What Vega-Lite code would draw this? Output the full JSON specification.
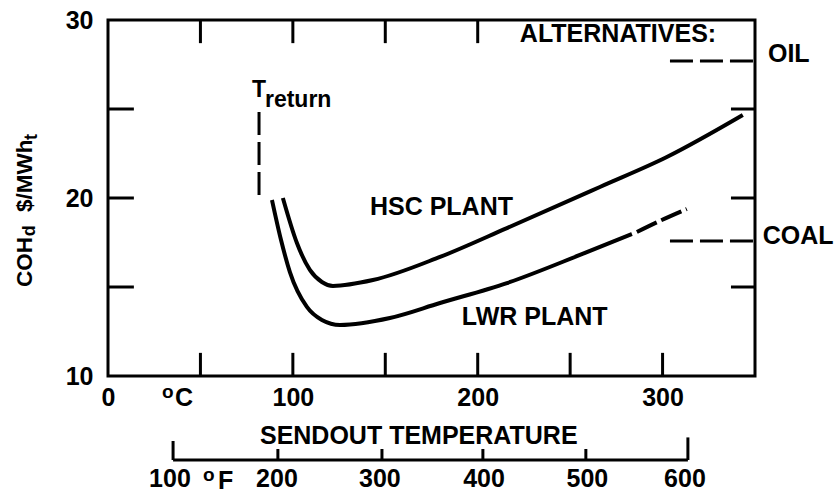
{
  "$schema": "https://vega.github.io/schema/vega-lite/v6.json",
  "width": 647,
  "height": 356,
  "autosize": "none",
  "padding": {"left": 108, "top": 20, "right": 83, "bottom": 119},
  "background": "white",
  "config": {
    "view": {"stroke": "black", "strokeWidth": 3},
    "text": {"font": "Liberation Sans", "fontWeight": "bold", "color": "black"},
    "axis": {
      "domain": false, "ticks": false, "tickSize": 0, "grid": false,
      "labelFont": "Liberation Sans", "labelFontWeight": "bold", "labelFontSize": 25, "labelColor": "black",
      "labelFlush": false, "labelOverlap": false, "labelBound": false
    }
  },
  "datasets": {
    "curves": [
      {"s": "HSC", "x": 94.6, "y": 20.0},
      {"s": "HSC", "x": 102.2, "y": 17.47},
      {"s": "HSC", "x": 109.2, "y": 15.96},
      {"s": "HSC", "x": 115.7, "y": 15.28},
      {"s": "HSC", "x": 121.7, "y": 15.06},
      {"s": "HSC", "x": 143.3, "y": 15.39},
      {"s": "HSC", "x": 179.6, "y": 16.69},
      {"s": "HSC", "x": 215.8, "y": 18.31},
      {"s": "HSC", "x": 266.1, "y": 20.62},
      {"s": "HSC", "x": 302.3, "y": 22.30},
      {"s": "HSC", "x": 343.4, "y": 24.66},
      {"s": "LWR", "x": 88.7, "y": 19.89},
      {"s": "LWR", "x": 93.6, "y": 17.64},
      {"s": "LWR", "x": 98.4, "y": 15.84},
      {"s": "LWR", "x": 107.6, "y": 13.88},
      {"s": "LWR", "x": 115.7, "y": 13.15},
      {"s": "LWR", "x": 125.5, "y": 12.87},
      {"s": "LWR", "x": 152.5, "y": 13.26},
      {"s": "LWR", "x": 179.6, "y": 14.10},
      {"s": "LWR", "x": 215.8, "y": 15.22},
      {"s": "LWR", "x": 255.3, "y": 16.80},
      {"s": "LWR", "x": 283.4, "y": 17.98},
      {"s": "LWRd", "x": 286.1, "y": 18.09},
      {"s": "LWRd", "x": 298.5, "y": 18.71},
      {"s": "LWRd", "x": 313.1, "y": 19.38}
    ],
    "ticks": [
      {"x": 50, "x2": 50, "y": 10, "y2": 11.3},
      {"x": 100, "x2": 100, "y": 10, "y2": 11.3},
      {"x": 150, "x2": 150, "y": 10, "y2": 11.3},
      {"x": 200, "x2": 200, "y": 10, "y2": 11.3},
      {"x": 250, "x2": 250, "y": 10, "y2": 11.3},
      {"x": 300, "x2": 300, "y": 10, "y2": 11.3},
      {"x": 50, "x2": 50, "y": 30, "y2": 28.7},
      {"x": 100, "x2": 100, "y": 30, "y2": 28.7},
      {"x": 150, "x2": 150, "y": 30, "y2": 28.7},
      {"x": 200, "x2": 200, "y": 30, "y2": 28.7},
      {"x": 0, "x2": 14, "y": 15, "y2": 15},
      {"x": 0, "x2": 14, "y": 20, "y2": 20},
      {"x": 0, "x2": 14, "y": 25, "y2": 25},
      {"x": 350, "x2": 337, "y": 15, "y2": 15},
      {"x": 350, "x2": 337, "y": 20, "y2": 20},
      {"x": 350, "x2": 337, "y": 25, "y2": 25}
    ],
    "dashes": [
      {"x": 81.7, "x2": 81.7, "y": 24.83, "y2": 20.17},
      {"x": 304.0, "x2": 350, "y": 27.70, "y2": 27.70},
      {"x": 304.0, "x2": 350, "y": 17.58, "y2": 17.58}
    ],
    "faxis": [
      {"x": 35.2, "x2": 313.7, "y": 5.28, "y2": 5.28},
      {"x": 35.2, "x2": 35.2, "y": 5.28, "y2": 6.35},
      {"x": 313.7, "x2": 313.7, "y": 5.28, "y2": 6.55},
      {"x": 91.9, "x2": 91.9, "y": 5.28, "y2": 5.9},
      {"x": 148.2, "x2": 148.2, "y": 5.28, "y2": 5.9},
      {"x": 202.8, "x2": 202.8, "y": 5.28, "y2": 5.9},
      {"x": 258.5, "x2": 258.5, "y": 5.28, "y2": 5.9}
    ],
    "labels": [
      {"t": "HSC PLANT", "x": 141.7, "y": 19.47},
      {"t": "LWR PLANT", "x": 191.4, "y": 13.29},
      {"t": "OIL", "x": 357.0, "y": 28.09},
      {"t": "COAL", "x": 354.2, "y": 17.87},
      {"t": "ALTERNATIVES:", "x": 222.8, "y": 29.24},
      {"t": "SENDOUT TEMPERATURE", "x": 82.2, "y": 6.63},
      {"t": "C", "x": 36.2, "y": 8.74},
      {"t": "F", "x": 59.5, "y": 4.10}
    ],
    "flabels": [
      {"t": "100", "x": 33.5, "y": 4.21},
      {"t": "200", "x": 91.4, "y": 4.21},
      {"t": "300", "x": 147.1, "y": 4.21},
      {"t": "400", "x": 203.4, "y": 4.21},
      {"t": "500", "x": 259.3, "y": 4.21},
      {"t": "600", "x": 312.1, "y": 4.21}
    ],
    "sups": [
      {"t": "o", "x": 29.2, "y": 9.10},
      {"t": "o", "x": 51.4, "y": 4.44}
    ],
    "treturn": [
      {"t": "T", "x": 77.9, "y": 25.67},
      {"t": "return", "x": 84.9, "y": 25.11}
    ],
    "ytitle": [
      {"t": "COH", "x": -41.1, "y": 15.0},
      {"t": "$/MWh", "x": -41.1, "y": 19.21}
    ],
    "ysubs": [
      {"t": "d", "x": -39.5, "y": 17.85},
      {"t": "t", "x": -38.6, "y": 23.26}
    ]
  },
  "layer": [
    {
      "data": {"name": "curves"},
      "transform": [{"filter": "datum.s != 'LWRd'"}],
      "mark": {"type": "line", "interpolate": "monotone", "strokeWidth": 4, "color": "black"},
      "encoding": {
        "x": {
          "field": "x", "type": "quantitative",
          "scale": {"domain": [0, 350], "nice": false, "zero": false},
          "axis": {"values": [0, 100, 200, 300], "title": null, "labelPadding": 21, "labelBaseline": "middle"}
        },
        "y": {
          "field": "y", "type": "quantitative",
          "scale": {"domain": [10, 30], "nice": false, "zero": false},
          "axis": {"values": [10, 20, 30], "title": null, "labelPadding": 15}
        },
        "detail": {"field": "s"}
      }
    },
    {
      "data": {"name": "curves"},
      "transform": [{"filter": "datum.s == 'LWRd'"}],
      "mark": {"type": "line", "interpolate": "monotone", "strokeWidth": 4, "color": "black", "strokeDash": [22, 5]},
      "encoding": {
        "x": {"field": "x", "type": "quantitative", "axis": {"title": null}},
        "y": {"field": "y", "type": "quantitative", "axis": {"title": null}}
      }
    },
    {
      "data": {"name": "ticks"},
      "mark": {"type": "rule", "strokeWidth": 3, "color": "black"},
      "encoding": {
        "x": {"field": "x", "type": "quantitative", "axis": {"title": null}},
        "x2": {"field": "x2"},
        "y": {"field": "y", "type": "quantitative", "axis": {"title": null}},
        "y2": {"field": "y2"}
      }
    },
    {
      "data": {"name": "dashes"},
      "mark": {"type": "rule", "strokeWidth": 3, "color": "black", "strokeDash": [23, 7]},
      "encoding": {
        "x": {"field": "x", "type": "quantitative", "axis": {"title": null}},
        "x2": {"field": "x2"},
        "y": {"field": "y", "type": "quantitative", "axis": {"title": null}},
        "y2": {"field": "y2"}
      }
    },
    {
      "data": {"name": "faxis"},
      "mark": {"type": "rule", "strokeWidth": 3, "color": "black"},
      "encoding": {
        "x": {"field": "x", "type": "quantitative", "axis": {"title": null}},
        "x2": {"field": "x2"},
        "y": {"field": "y", "type": "quantitative", "axis": {"title": null}},
        "y2": {"field": "y2"}
      }
    },
    {
      "data": {"name": "labels"},
      "mark": {"type": "text", "fontSize": 25, "align": "left", "baseline": "middle"},
      "encoding": {
        "x": {"field": "x", "type": "quantitative", "axis": {"title": null}},
        "y": {"field": "y", "type": "quantitative", "axis": {"title": null}},
        "text": {"field": "t"}
      }
    },
    {
      "data": {"name": "flabels"},
      "mark": {"type": "text", "fontSize": 25, "align": "center", "baseline": "middle"},
      "encoding": {
        "x": {"field": "x", "type": "quantitative", "axis": {"title": null}},
        "y": {"field": "y", "type": "quantitative", "axis": {"title": null}},
        "text": {"field": "t"}
      }
    },
    {
      "data": {"name": "sups"},
      "mark": {"type": "text", "fontSize": 19, "align": "left", "baseline": "middle"},
      "encoding": {
        "x": {"field": "x", "type": "quantitative", "axis": {"title": null}},
        "y": {"field": "y", "type": "quantitative", "axis": {"title": null}},
        "text": {"field": "t"}
      }
    },
    {
      "data": {"name": "treturn"},
      "mark": {"type": "text", "fontSize": 23, "align": "left", "baseline": "alphabetic"},
      "encoding": {
        "x": {"field": "x", "type": "quantitative", "axis": {"title": null}},
        "y": {"field": "y", "type": "quantitative", "axis": {"title": null}},
        "text": {"field": "t"}
      }
    },
    {
      "data": {"name": "ytitle"},
      "mark": {"type": "text", "fontSize": 22.5, "align": "left", "baseline": "alphabetic", "angle": 270},
      "encoding": {
        "x": {"field": "x", "type": "quantitative", "axis": {"title": null}},
        "y": {"field": "y", "type": "quantitative", "axis": {"title": null}},
        "text": {"field": "t"}
      }
    },
    {
      "data": {"name": "ysubs"},
      "mark": {"type": "text", "fontSize": 18, "align": "left", "baseline": "alphabetic", "angle": 270},
      "encoding": {
        "x": {"field": "x", "type": "quantitative", "axis": {"title": null}},
        "y": {"field": "y", "type": "quantitative", "axis": {"title": null}},
        "text": {"field": "t"}
      }
    }
  ]
}
